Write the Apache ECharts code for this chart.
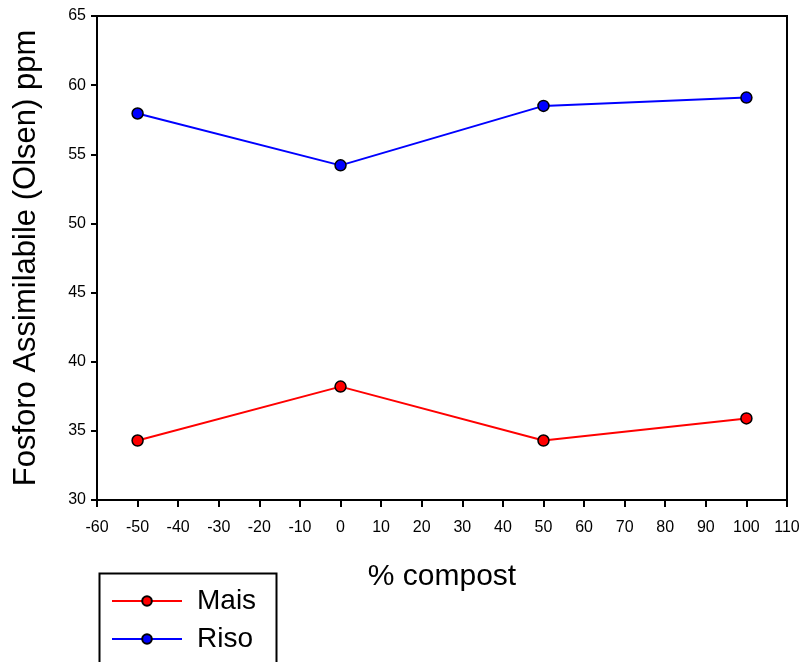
<!DOCTYPE html>
<html>
<head>
<meta charset="utf-8">
<script src="https://cdn.jsdelivr.net/npm/echarts@6/dist/echarts.min.js"></script>
<style>html,body{margin:0;padding:0;background:#fff;}#c{width:809px;height:662px;}</style>
</head>
<body>
<div id="c"></div>
<script>
const compost = [-50, 0, 50, 100];
const mais = [34.3, 38.2, 34.3, 35.9];
const riso = [57.95, 54.2, 58.5, 59.1];
const seriesNames = ['Mais', 'Riso'];
const xTitle = '% compost';
const yTitle = 'Fosforo Assimilabile (Olsen) ppm';

const font = 'Liberation Sans, Arial, sans-serif';
const chart = echarts.init(document.getElementById('c'));
function pairs(vals){ return compost.map((x,i)=>[x, vals[i]]); }
chart.setOption({
  animation: false,
  backgroundColor: '#fff',
  grid: { left: 97, right: 22, top: 16, bottom: 162, show: true, borderColor: '#000', borderWidth: 2, containLabel: false },
  xAxis: {
    type: 'value', min: -60, max: 110, interval: 10,
    name: xTitle, nameLocation: 'middle', nameGap: 62,
    nameTextStyle: { fontFamily: font, fontSize: 30, color: '#000' },
    axisLine: { show: true, onZero: false, lineStyle: { color: '#000', width: 2 } },
    axisTick: { show: true, length: 7, lineStyle: { color: '#000', width: 2 } },
    axisLabel: { color: '#000', fontFamily: font, fontSize: 16, margin: 20 },
    splitLine: { show: false }
  },
  yAxis: {
    type: 'value', min: 30, max: 65, interval: 5,
    name: yTitle, nameLocation: 'middle', nameGap: 55,
    nameTextStyle: { fontFamily: font, fontSize: 31, color: '#000' },
    axisLine: { show: true, onZero: false, lineStyle: { color: '#000', width: 2 } },
    axisTick: { show: true, length: 6, lineStyle: { color: '#000', width: 2 } },
    axisLabel: { color: '#000', fontFamily: font, fontSize: 16, margin: 11 },
    splitLine: { show: false }
  },
  legend: {
    orient: 'vertical', left: 97, top: 571,
    padding: [16, 20, 0, 14],
    itemWidth: 70, itemHeight: 12, itemGap: 10,
    textStyle: { fontFamily: font, fontSize: 28, color: '#000', lineHeight: 28, padding: [0,0,0,10] },
    data: seriesNames
  },
  graphic: [{
    type: 'rect', left: 97, top: 571, silent: true,
    shape: { width: 177, height: 120 },
    style: { fill: 'none', stroke: '#000', lineWidth: 2 }
  }],
  series: [
    { name: seriesNames[0], type: 'line', data: pairs(mais), symbol: 'circle', symbolSize: 11,
      lineStyle: { color: '#ff0000', width: 2 },
      itemStyle: { color: '#ff0000', borderColor: '#000', borderWidth: 1.5 } },
    { name: seriesNames[1], type: 'line', data: pairs(riso), symbol: 'circle', symbolSize: 11,
      lineStyle: { color: '#0000ff', width: 2 },
      itemStyle: { color: '#0000ff', borderColor: '#000', borderWidth: 1.5 } }
  ]
});
</script>
</body>
</html>
